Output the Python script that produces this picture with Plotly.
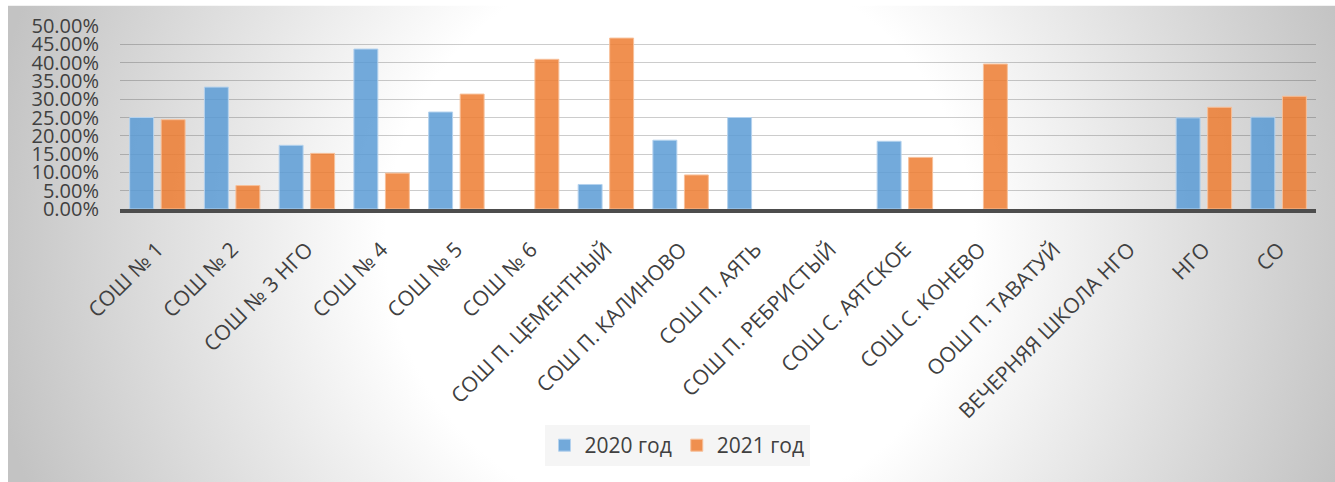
import base64
import plotly.graph_objects as go

categories = [
    "СОШ № 1", "СОШ № 2", "СОШ № 3 НГО", "СОШ № 4", "СОШ № 5", "СОШ № 6",
    "СОШ П. ЦЕМЕНТНЫЙ", "СОШ П. КАЛИНОВО", "СОШ П. АЯТЬ", "СОШ П. РЕБРИСТЫЙ",
    "СОШ С. АЯТСКОЕ", "СОШ С. КОНЕВО", "ООШ П. ТАВАТУЙ", "ВЕЧЕРНЯЯ ШКОЛА НГО",
    "НГО", "СО",
]
values_2020 = [0.25, 0.333, 0.174, 0.437, 0.265, 0.0, 0.067, 0.188, 0.25, 0.0,
               0.185, 0.0, 0.0, 0.0, 0.249, 0.251]
values_2021 = [0.244, 0.064, 0.152, 0.098, 0.314, 0.409, 0.467, 0.093, 0.0, 0.0,
               0.141, 0.396, 0.0, 0.0, 0.278, 0.308]
series_names = ["2020 год", "2021 год"]

TEXT = "#404040"
FONT = "Open Sans"

# plot area in pixels (1335x482 page)
L, R, T, B = 120, 19, 21, 273
W, H = 1335, 482
pw, ph = W - L - R, H - T - B

# radial grey-white background as an svg gradient image
bg_w, bg_h = W - 8, H + 12
svg = (
    f'<svg xmlns="http://www.w3.org/2000/svg" width="{bg_w}" height="{bg_h}" '
    f'viewBox="0 0 {bg_w} {bg_h}" preserveAspectRatio="none"><defs>'
    '<radialGradient id="g" gradientUnits="userSpaceOnUse" cx="672" cy="240" r="700">'
    '<stop offset="0" stop-color="#ffffff"/><stop offset="0.42" stop-color="#ffffff"/>'
    '<stop offset="1" stop-color="#c3c3c3"/></radialGradient></defs>'
    f'<rect width="{bg_w}" height="{bg_h}" fill="url(#g)"/></svg>'
)
bg_src = "data:image/svg+xml;base64," + base64.b64encode(svg.encode()).decode()


def edge_widths(vals):
    # no outline on empty bars, so nothing pokes above the axis line
    return [0 if v == 0 else 1 for v in vals]


fig = go.Figure()
fig.add_trace(go.Bar(
    x=categories, y=values_2020, name=series_names[0],
    marker=dict(color="rgba(91,155,213,0.85)",
                line=dict(color="#b4d2ee", width=edge_widths(values_2020))),
))
fig.add_trace(go.Bar(
    x=categories, y=values_2021, name=series_names[1],
    marker=dict(color="rgba(237,125,49,0.85)",
                line=dict(color="#f7c09a", width=edge_widths(values_2021))),
))

fig.update_layout(
    width=W, height=H,
    margin=dict(l=L, r=R, t=T, b=B, pad=0),
    paper_bgcolor="white",
    plot_bgcolor="rgba(0,0,0,0)",
    barmode="group",
    bargap=0.157,
    bargroupgap=0.24,
    font=dict(family=FONT, color=TEXT),
    images=[dict(
        source=bg_src, xref="paper", yref="paper",
        x=(8 - L) / pw, y=1 + T / ph,
        sizex=bg_w / pw, sizey=bg_h / ph,
        xanchor="left", yanchor="top", sizing="stretch", layer="below",
    )],
    legend=dict(
        orientation="h", x=(677 - L) / pw, y=(T + ph - 452) / ph,
        xanchor="center", yanchor="middle",
        bgcolor="rgba(238,238,238,0.6)", borderwidth=0,
        font=dict(size=21, color=TEXT),
    ),
    showlegend=True,
)
fig.update_xaxes(
    showgrid=False, showline=True, linecolor="#4d4d4d", linewidth=4,
    tickangle=-45, tickfont=dict(size=21, color=TEXT), ticks="",
    ticklabelstandoff=16,
)
fig.update_yaxes(
    range=[0, 0.5], tickmode="linear", tick0=0, dtick=0.05, tickformat=".2%",
    showgrid=True, gridcolor="rgba(0,0,0,0.2)", gridwidth=1.3, zeroline=False,
    tickfont=dict(size=20, color=TEXT), ticks="", ticklabelstandoff=20,
)

fig.write_html("out.html", config={"displayModeBar": False},
               post_script="document.body.style.margin='0';")
